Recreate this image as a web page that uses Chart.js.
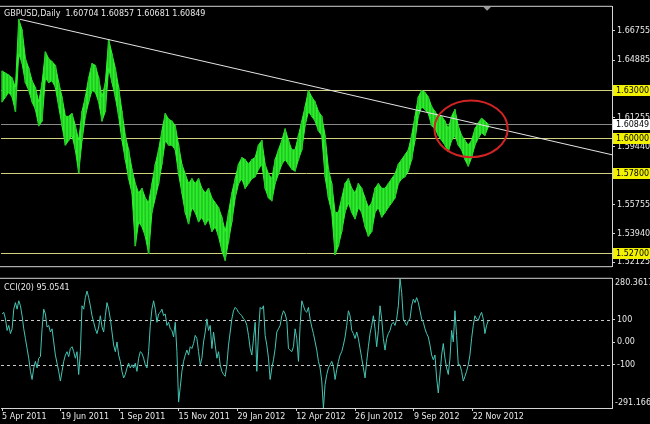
<!DOCTYPE html>
<html>
<head>
<meta charset="utf-8">
<title>GBPUSD Daily</title>
<script src="https://cdn.jsdelivr.net/npm/chart.js@4.4.1/dist/chart.umd.min.js"></script>
<style>
  html, body { margin: 0; padding: 0; background: #000; }
  #wrap { position: relative; width: 650px; height: 424px; background: #000; overflow: hidden; }
  #priceChart { position: absolute; left: 0; top: 0; }
  #cciChart { position: absolute; left: 0; top: 272px; }
</style>
</head>
<body>
<div id="wrap">
  <canvas id="priceChart" width="650" height="273"></canvas>
  <canvas id="cciChart" width="650" height="152"></canvas>
</div>
<script>
// ---- data ----
// one price sample every 3 trading days, one CCI sample every 1.5 days
const symbolName = 'GBPUSD,Daily';
const lastBar = [1.60704, 1.60857, 1.60681, 1.60849]; // open high low close

const priceHigh = [
  1.6421, 1.6408, 1.6396, 1.6378, 1.6317, 1.6748, 1.6682, 1.6499, 1.6439, 1.6360,
  1.6317, 1.6226, 1.6348, 1.6542, 1.6499, 1.6481, 1.6457, 1.6348, 1.6257, 1.6135,
  1.6135, 1.6153, 1.6075, 1.5983, 1.6166, 1.6257, 1.6378, 1.6469, 1.6457, 1.6378,
  1.6257, 1.6348, 1.6621, 1.6530, 1.6439, 1.6317, 1.6166, 1.6014, 1.5923, 1.5801,
  1.5710, 1.5650, 1.5680, 1.5619, 1.5589, 1.5710, 1.5832, 1.5923, 1.6044, 1.6153,
  1.6117, 1.6105, 1.6075, 1.5953, 1.5832, 1.5771, 1.5710, 1.5741, 1.5710, 1.5741,
  1.5680, 1.5650, 1.5680, 1.5619, 1.5589, 1.5559, 1.5498, 1.5407, 1.5528, 1.5650,
  1.5741, 1.5832, 1.5874, 1.5862, 1.5832, 1.5862, 1.5874, 1.5953, 1.5983, 1.5832,
  1.5771, 1.5741, 1.5862, 1.5923, 1.5983, 1.6056, 1.5983, 1.5923, 1.5923, 1.6014,
  1.6105, 1.6196, 1.6299, 1.6257, 1.6226, 1.6166, 1.6135, 1.6014, 1.5801, 1.5710,
  1.5528, 1.5528, 1.5619, 1.5710, 1.5741, 1.5680, 1.5650, 1.5710, 1.5680, 1.5619,
  1.5559, 1.5589, 1.5680, 1.5710, 1.5680, 1.5680, 1.5710, 1.5741, 1.5771, 1.5832,
  1.5862, 1.5892, 1.5923, 1.6014, 1.6135, 1.6257, 1.6299, 1.6287, 1.6257, 1.6196,
  1.6166, 1.6135, 1.6135, 1.6105, 1.6056, 1.6135, 1.6178, 1.6075, 1.6014, 1.5983,
  1.5953, 1.5983, 1.6056, 1.6093, 1.6123, 1.6105, 1.6086
];
const priceLow = [
  1.6226, 1.6257, 1.6287, 1.6257, 1.6166, 1.6530, 1.6469, 1.6348, 1.6299, 1.6226,
  1.6178, 1.6075, 1.6105, 1.6378, 1.6348, 1.6360, 1.6317, 1.6196, 1.6075, 1.5953,
  1.5983, 1.6014, 1.5923, 1.5777, 1.5983, 1.6135, 1.6226, 1.6299, 1.6287, 1.6226,
  1.6105, 1.6166, 1.6439, 1.6348, 1.6257, 1.6135, 1.5983, 1.5862, 1.5741, 1.5650,
  1.5316, 1.5468, 1.5437, 1.5377, 1.5267, 1.5528, 1.5619, 1.5710, 1.5832, 1.5983,
  1.5953, 1.5953, 1.5923, 1.5771, 1.5650, 1.5528, 1.5455, 1.5559, 1.5528, 1.5468,
  1.5498, 1.5449, 1.5486, 1.5407, 1.5437, 1.5377, 1.5285, 1.5225, 1.5346, 1.5468,
  1.5619, 1.5710, 1.5741, 1.5680, 1.5710, 1.5741, 1.5753, 1.5801, 1.5832, 1.5680,
  1.5619, 1.5601, 1.5710, 1.5771, 1.5832, 1.5862, 1.5832, 1.5801, 1.5789, 1.5862,
  1.5923, 1.6075, 1.6166, 1.6135, 1.6105, 1.6044, 1.6014, 1.5753, 1.5619, 1.5528,
  1.5261, 1.5316, 1.5407, 1.5528, 1.5589, 1.5528, 1.5486, 1.5559, 1.5528, 1.5437,
  1.5377, 1.5407, 1.5528, 1.5559, 1.5498, 1.5528, 1.5559, 1.5589, 1.5619, 1.5710,
  1.5741, 1.5753, 1.5789, 1.5862, 1.5983, 1.6135, 1.6196, 1.6178, 1.6153, 1.6075,
  1.6056, 1.6014, 1.5983, 1.5953, 1.5911, 1.5983, 1.6014, 1.5953, 1.5923, 1.5862,
  1.5820, 1.5874, 1.5953, 1.5996, 1.6032, 1.6014, 1.6068
];

const cciValues = [
  125, 132, 103, 52, 74, 38, 59, 146, 175, 146,
  183, 161, 117, 59, 16, -28, -71, -129, -165, -114,
  -85, -114, -71, -64, 59, 146, 125, 67, 74, 45,
  59, 1, -57, -93, -129, -172, -129, -85, -57, -42,
  -64, -28, -20, -42, -71, -42, -143, -42, 161, 146,
  197, 226, 197, 161, 117, 88, 59, 38, 67, 117,
  67, 45, 117, 175, 146, 103, 45, -13, -42, 1,
  -57, -85, -129, -158, -143, -114, -93, -114, -100, -114,
  -93, -129, -71, -42, -49, -71, -100, -114, -42, 74,
  146, 183, 146, 88, 125, 132, 146, 117, 125, 74,
  88, 59, 52, 23, 88, -42, -265, -200, -129, -85,
  -57, -35, -57, -20, -28, -6, 30, 16, -42, -100,
  -71, 1, 45, 103, 52, 74, -28, 45, -13, -71, -42, -100,
  -129, -143, -151, -100, -13, 45, 103, 139, 154, 146,
  132, 125, 117, 103, 96, 74, 30, -28, -57, 16,
  88, -129, 45, 154, 146, 161, 30, -13, -71, -165,
  -114, -78, -28, 45, 59, 74, 117, 139, 125, 96,
  -28, -35, -42, -20, 59, 16, -85, 74, 183, 161,
  139, 132, 154, 103, 67, 38, 1, -35, -85, -114,
  -172, -291, -187, -143, -114, -100, -85, -107, -165, -122,
  -85, -57, -42, -13, 23, 74, 139, 117, 52, 38,
  16, 45, 16, -28, -71, -114, -158, -85, -20, 38,
  74, 117, 59, -20, 52, 161, 103, 16, -35, 16,
  38, 52,
  80, 88, 74, 103, 161, 280, 219, 103, 88, 74,
  96, 103, 161, 190, 175, 197, 175, 139, 103, 88,
  59, 38, 23, -13, -57, -78, -57, -158, -225, -143,
  -57, -6, -71, -114, -143, -71, 52, 1, 139, 30,
  -100, -100, -129, -172, -151, -129, -100, -57, 16, 74,
  117, 103, 96, 117, 132, 103, 38, 74, 95.0541
];

const priceTicks = [1.66755, 1.64885, 1.61255, 1.59440, 1.55755, 1.53940, 1.52125];
const levelLines = [1.63000, 1.60000, 1.57800, 1.52700];
const bidPrice = 1.60849;
const cciTicks = [100, 0, -100];
const cciMax = 280.3617;
const cciMin = -291.166;

const dateTickDays = [0, 53, 106, 159, 212, 265, 318, 371, 424];
const dateTickLabels = ['5 Apr 2011', '19 Jun 2011', '1 Sep 2011', '15 Nov 2011', '29 Jan 2012',
  '12 Apr 2012', '26 Jun 2012', '9 Sep 2012', '22 Nov 2012'];

// drawn objects: trend line, ellipse around the last weeks
const trendDays = [16.1, 549.5];
const trendPrices = [1.6748, 1.5892];
const ellipseCenter = [422.5, 1.6056];
const ellipseRadius = [33, 0.0179];
const shiftMarkerDay = 437;

// ---- look ----
const X_MIN = -1, X_MAX = 549.5;
const textColor = '#e8e8e8';
const frameColor = '#d4d4d4';
const barGreen = '#2cf02c';
const barShade = '#22c622';
const levelColor = '#cfcf7c';
const bidColor = '#8a8a8a';
const cciColor = '#45c4b4';
const fontSpec = '8px "DejaVu Sans", sans-serif';

Chart.defaults.font.family = '"DejaVu Sans", sans-serif';
Chart.defaults.font.size = 8;
Chart.defaults.color = textColor;

const sampleDay = i => i * 3;

// horizontal lines, boxes, ellipse and text of the price window
const priceOverlay = {
  id: 'priceOverlay',
  beforeDatasetsDraw(chart) {
    const { ctx, chartArea: a, scales: { y } } = chart;
    ctx.save();
    ctx.lineWidth = 1;
    ctx.strokeStyle = levelColor;
    levelLines.forEach(v => {
      const py = Math.round(y.getPixelForValue(v)) + 0.5;
      ctx.beginPath();
      ctx.moveTo(a.left, py);
      ctx.lineTo(a.right, py);
      ctx.stroke();
    });
    const by = Math.round(y.getPixelForValue(bidPrice)) + 0.5;
    ctx.strokeStyle = bidColor;
    ctx.beginPath();
    ctx.moveTo(a.left, by);
    ctx.lineTo(a.right, by);
    ctx.stroke();
    ctx.restore();
  },
  afterDraw(chart) {
    const { ctx, chartArea: a, scales: { x, y } } = chart;
    ctx.save();

    // red ellipse
    const cx = x.getPixelForValue(ellipseCenter[0]);
    const cy = y.getPixelForValue(ellipseCenter[1]);
    const rx = x.getPixelForValue(ellipseCenter[0] + ellipseRadius[0]) - cx;
    const ry = cy - y.getPixelForValue(ellipseCenter[1] + ellipseRadius[1]);
    ctx.strokeStyle = '#d02424';
    ctx.lineWidth = 2;
    ctx.beginPath();
    ctx.ellipse(cx, cy, rx, ry, 0, 0, Math.PI * 2);
    ctx.stroke();

    // frame
    ctx.strokeStyle = frameColor;
    ctx.lineWidth = 1;
    ctx.beginPath();
    ctx.moveTo(0, a.top - 0.5);
    ctx.lineTo(a.right, a.top - 0.5);
    ctx.moveTo(0, a.bottom + 0.5);
    ctx.lineTo(a.right, a.bottom + 0.5);
    ctx.stroke();

    // chart shift marker
    const mx = x.getPixelForValue(shiftMarkerDay);
    ctx.fillStyle = '#9a9a9a';
    ctx.beginPath();
    ctx.moveTo(mx - 4, a.top);
    ctx.lineTo(mx + 4, a.top);
    ctx.lineTo(mx, a.top + 4);
    ctx.closePath();
    ctx.fill();

    // price boxes on the axis
    ctx.font = fontSpec;
    ctx.textBaseline = 'middle';
    ctx.textAlign = 'left';
    levelLines.forEach(v => {
      const py = Math.round(y.getPixelForValue(v));
      ctx.fillStyle = '#f2f200';
      ctx.fillRect(a.right + 1, py - 5, 37, 11);
      ctx.fillStyle = '#000';
      ctx.fillText(v.toFixed(5), a.right + 4, py + 0.5);
    });
    const by = Math.round(y.getPixelForValue(bidPrice));
    ctx.fillStyle = '#ffffff';
    ctx.fillRect(a.right + 1, by - 5, 37, 11);
    ctx.fillStyle = '#000';
    ctx.fillText(bidPrice.toFixed(5), a.right + 4, by + 0.5);

    // title
    ctx.fillStyle = textColor;
    ctx.fillText(symbolName + '  ' + lastBar.map(v => v.toFixed(5)).join(' '), 4, a.top + 7);
    ctx.restore();
  }
};

const priceChart = new Chart(document.getElementById('priceChart'), {
  type: 'bar',
  data: {
    datasets: [
      {
        // low edge of the daily range
        type: 'line',
        order: 3,
        data: priceLow.map((v, i) => ({ x: sampleDay(i), y: v })),
        borderColor: barGreen,
        borderWidth: 1,
        pointRadius: 0,
        fill: false
      },
      {
        // high edge, filled down to the low edge
        type: 'line',
        order: 2,
        data: priceHigh.map((v, i) => ({ x: sampleDay(i), y: v })),
        borderColor: barGreen,
        backgroundColor: barGreen,
        borderWidth: 1,
        pointRadius: 0,
        fill: '-1'
      },
      {
        // bar texture
        type: 'bar',
        order: 1,
        data: priceHigh.map((h, i) => ({ x: sampleDay(i), y: [priceLow[i], h] })),
        backgroundColor: barShade,
        borderWidth: 0,
        barThickness: 1
      },
      {
        type: 'line',
        order: 0,
        data: trendDays.map((d, i) => ({ x: d, y: trendPrices[i] })),
        borderColor: '#e4e4e4',
        borderWidth: 1,
        pointRadius: 0
      }
    ]
  },
  options: {
    responsive: false,
    animation: false,
    events: [],
    layout: { padding: { left: 1, top: 1, right: 0, bottom: 2 } },
    plugins: { legend: { display: false }, tooltip: { enabled: false } },
    scales: {
      x: { type: 'linear', display: false, min: X_MIN, max: X_MAX, offset: false },
      y: {
        position: 'right',
        min: 1.5188,
        max: 1.6827,
        afterFit(scale) { scale.width = 38; },
        afterBuildTicks(scale) { scale.ticks = priceTicks.map(v => ({ value: v })); },
        ticks: { callback: v => v.toFixed(5), color: textColor, padding: 2, font: { size: 8 } },
        grid: { drawOnChartArea: false, drawTicks: true, tickLength: 3, color: frameColor },
        border: { display: true, color: frameColor }
      }
    }
  },
  plugins: [priceOverlay]
});

// CCI window
const cciOverlay = {
  id: 'cciOverlay',
  beforeDatasetsDraw(chart) {
    const { ctx, chartArea: a, scales: { y } } = chart;
    ctx.save();
    ctx.strokeStyle = '#c8c8c8';
    ctx.lineWidth = 1;
    ctx.setLineDash([3, 3]);
    [100, -100].forEach(v => {
      const py = Math.round(y.getPixelForValue(v)) + 0.5;
      ctx.beginPath();
      ctx.moveTo(a.left, py);
      ctx.lineTo(a.right, py);
      ctx.stroke();
    });
    ctx.restore();
  },
  afterDraw(chart) {
    const { ctx, chartArea: a } = chart;
    ctx.save();
    ctx.strokeStyle = frameColor;
    ctx.lineWidth = 1;
    ctx.beginPath();
    ctx.moveTo(0, a.top - 0.5);
    ctx.lineTo(a.right, a.top - 0.5);
    ctx.stroke();
    ctx.font = fontSpec;
    ctx.fillStyle = textColor;
    ctx.textBaseline = 'middle';
    ctx.textAlign = 'left';
    ctx.fillText(String(cciMax), a.right + 3, a.top + 4);
    ctx.fillText(String(cciMin), a.right + 3, a.bottom - 5);
    ctx.fillText('CCI(20) ' + cciValues[cciValues.length - 1], 4, a.top + 9);
    ctx.restore();
  }
};

const cciChart = new Chart(document.getElementById('cciChart'), {
  type: 'line',
  data: {
    datasets: [{
      data: cciValues.map((v, k) => ({ x: k * 1.5, y: v })),
      borderColor: cciColor,
      borderWidth: 1,
      pointRadius: 0,
      tension: 0
    }]
  },
  options: {
    responsive: false,
    animation: false,
    events: [],
    layout: { padding: { left: 1, top: 3, right: 0, bottom: 0 } },
    plugins: { legend: { display: false }, tooltip: { enabled: false } },
    scales: {
      x: {
        type: 'linear',
        position: 'bottom',
        min: X_MIN,
        max: X_MAX,
        offset: false,
        afterFit(scale) { scale.height = 16; },
        afterBuildTicks(scale) { scale.ticks = dateTickDays.map(v => ({ value: v })); },
        ticks: {
          autoSkip: false,
          maxRotation: 0,
          align: 'start',
          padding: 1,
          color: textColor,
          font: { size: 8 },
          callback: (v, i) => dateTickLabels[i]
        },
        grid: { drawOnChartArea: false, drawTicks: true, tickLength: 3, color: frameColor },
        border: { display: true, color: frameColor }
      },
      y: {
        position: 'right',
        min: cciMin,
        max: cciMax,
        afterFit(scale) { scale.width = 38; },
        afterBuildTicks(scale) { scale.ticks = cciTicks.map(v => ({ value: v })); },
        ticks: { callback: v => (v === 0 ? '0.00' : String(v)), color: textColor, padding: 2, font: { size: 8 } },
        grid: { drawOnChartArea: false, drawTicks: true, tickLength: 3, color: frameColor },
        border: { display: true, color: frameColor }
      }
    }
  },
  plugins: [cciOverlay]
});
</script>
</body>
</html>
